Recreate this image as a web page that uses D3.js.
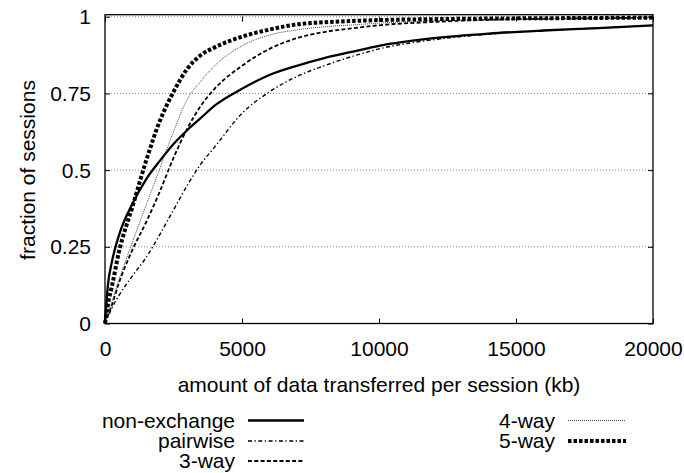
<!DOCTYPE html>
<html>
<head>
<meta charset="utf-8">
<script src="https://cdn.jsdelivr.net/npm/d3@7"></script>
<style>
  body { margin: 0; background: #fff; }
  text { font-family: "Liberation Sans", Arial, sans-serif; font-size: 21px; fill: #000; }
</style>
</head>
<body>
<script>
// data (kb, fraction of sessions)
var xValues    = [0, 100, 250, 500, 1000, 1500, 2000, 2500, 3000, 3500, 4000, 5000, 6000, 7000, 8000, 9000, 10000, 12000, 14000, 16000, 18000, 20000];
var nonExchange = [0, 0.12, 0.20, 0.285, 0.39, 0.47, 0.53, 0.585, 0.63, 0.67, 0.71, 0.765, 0.81, 0.84, 0.865, 0.885, 0.905, 0.93, 0.945, 0.955, 0.963, 0.972];
var pairwise    = [0, 0.02, 0.05, 0.09, 0.155, 0.215, 0.29, 0.37, 0.45, 0.52, 0.575, 0.685, 0.755, 0.805, 0.84, 0.87, 0.895, 0.925, 0.943, 0.955, 0.963, 0.972];
var threeWay    = [0, 0.025, 0.06, 0.13, 0.24, 0.33, 0.43, 0.54, 0.635, 0.71, 0.765, 0.84, 0.895, 0.93, 0.95, 0.962, 0.972, 0.983, 0.99, 0.993, 0.995, 0.997];
var fourWay     = [0, 0.03, 0.07, 0.14, 0.265, 0.385, 0.505, 0.625, 0.73, 0.79, 0.84, 0.905, 0.94, 0.957, 0.967, 0.973, 0.979, 0.986, 0.99, 0.993, 0.995, 0.997];
var fiveWay     = [0, 0.06, 0.12, 0.23, 0.38, 0.53, 0.66, 0.755, 0.83, 0.875, 0.9, 0.935, 0.958, 0.975, 0.982, 0.986, 0.989, 0.992, 0.994, 0.995, 0.996, 0.997];

var seriesNames = ["non-exchange", "pairwise", "3-way", "4-way", "5-way"];
var xTicks = [0, 5000, 10000, 15000, 20000];
var yTicks = [0, 0.25, 0.5, 0.75, 1];
var yTickLabels = ["0", "0.25", "0.5", "0.75", "1"];

const margin = {top: 16.7, right: 31, bottom: 149.5, left: 105};
const width = 684 - margin.left - margin.right;
const height = 473 - margin.top - margin.bottom;

var styles = [
    {width: 2.3, dash: null, color: "#000"},
    {width: 1.4, dash: "4,2.5,1.3,2.5", color: "#000"},
    {width: 1.8, dash: "4,2.3", color: "#000"},
    {width: 1, dash: "1,1", color: "#444"},
    {width: 4, dash: "3.5,2", color: "#000"}
];

var svg = d3.select("body")
            .append("svg")
            .attr("width", 684)
            .attr("height", 473)

var g = svg.append("g")
           .attr("transform", "translate(" + margin.left + "," + margin.top + ")")

var x = d3.scaleLinear()
          .domain([0, 20000])
          .range([0, width])

var y = d3.scaleLinear()
          .domain([0, 1])
          .range([height, 0])

// horizontal grid
g.selectAll(".grid")
 .data(yTicks.slice(1))
 .enter()
 .append("line")
 .attr("class", "grid")
 .attr("x1", 0)
 .attr("x2", width)
 .attr("y1", function(d){ return y(d) })
 .attr("y2", function(d){ return y(d) })
 .attr("stroke", "#888")
 .attr("stroke-width", 1)
 .attr("stroke-dasharray", "1,2")

// axes with inward ticks, mirrored like gnuplot
var xBottom = g.append("g")
               .attr("transform", "translate(0," + height + ")")
               .call(d3.axisBottom(x).tickValues(xTicks).tickSizeInner(-5).tickSizeOuter(0)
                       .tickFormat(d3.format("d")))
var xTop = g.append("g")
            .call(d3.axisTop(x).tickValues(xTicks).tickSizeInner(-5).tickSizeOuter(0).tickFormat(""))
var yLeft = g.append("g")
             .call(d3.axisLeft(y).tickValues(yTicks).tickSizeInner(-5).tickSizeOuter(0)
                     .tickFormat(function(d, i){ return yTickLabels[i] }).tickPadding(14))
var yRight = g.append("g")
              .attr("transform", "translate(" + width + ",0)")
              .call(d3.axisRight(y).tickValues(yTicks).tickSizeInner(-5).tickSizeOuter(0).tickFormat(""))

svg.selectAll(".domain").remove()
svg.selectAll(".tick line").attr("stroke", "#000")
svg.selectAll(".tick text")
   .style("font-size", "21px")
   .style("font-family", "'Liberation Sans', Arial, sans-serif")

xBottom.selectAll("text").attr("y", 18).attr("dy", "0.7em")
yLeft.selectAll("text").attr("dy", "0.33em")

// frame
g.append("rect")
 .attr("x", 0)
 .attr("y", -2)
 .attr("width", width)
 .attr("height", height + 2)
 .attr("fill", "none")
 .attr("stroke", "#000")
 .attr("stroke-width", 1.3)

var allSeries = [nonExchange, pairwise, threeWay, fourWay, fiveWay];

var line = d3.line()
             .x(function(d){ return x(d[0]) })
             .y(function(d){ return y(d[1]) })
             .curve(d3.curveMonotoneX)

for (var i = 0; i < allSeries.length; i++){
    var pts = xValues.map(function(v, j){ return [v, allSeries[i][j]] })
    g.append("path")
     .datum(pts)
     .attr("fill", "none")
     .attr("stroke", styles[i].color)
     .attr("stroke-width", styles[i].width)
     .attr("stroke-dasharray", styles[i].dash)
     .attr("d", line)
}

// axis titles
svg.append("text")
   .attr("x", margin.left + width / 2)
   .attr("y", 392)
   .attr("text-anchor", "middle")
   .text("amount of data transferred per session (kb)")

svg.append("text")
   .attr("transform", "translate(35,170) rotate(-90)")
   .attr("text-anchor", "middle")
   .text("fraction of sessions")

// legend: two columns
var legendPos = [
    {tx: 235, x1: 248, x2: 304, y: 420.5},
    {tx: 235, x1: 248, x2: 304, y: 441},
    {tx: 235, x1: 248, x2: 304, y: 461},
    {tx: 555, x1: 568, x2: 626, y: 420.5},
    {tx: 555, x1: 568, x2: 626, y: 441}
];

var legend = svg.selectAll(".legend")
                .data(seriesNames)
                .enter()
                .append("g")
                .attr("class", "legend")

legend.append("text")
      .attr("x", function(d, i){ return legendPos[i].tx })
      .attr("y", function(d, i){ return legendPos[i].y + 7 })
      .attr("text-anchor", "end")
      .text(function(d){ return d })

legend.append("line")
      .attr("x1", function(d, i){ return legendPos[i].x1 })
      .attr("x2", function(d, i){ return legendPos[i].x2 })
      .attr("y1", function(d, i){ return legendPos[i].y })
      .attr("y2", function(d, i){ return legendPos[i].y })
      .attr("stroke", function(d, i){ return styles[i].color })
      .attr("stroke-width", function(d, i){ return styles[i].width })
      .attr("stroke-dasharray", function(d, i){ return styles[i].dash })
</script>
</body>
</html>
